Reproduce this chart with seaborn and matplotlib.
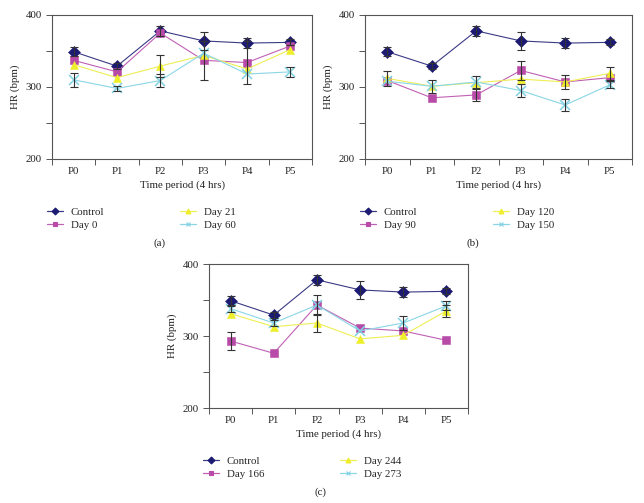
import numpy as np
import pandas as pd
import matplotlib
matplotlib.use('Agg')
import matplotlib.pyplot as plt
import seaborn as sns

periods = ['P0', 'P1', 'P2', 'P3', 'P4', 'P5']

# HR values (bpm), with SEM bars
control = [349, 329, 378, 364, 361, 362]
control_err = [6, 4, 7, 12, 7, 4]

day0 = [337, 321, 375, 337, 334, 357]
day0_err = [0, 0, 0, 27, 30, 0]
day21 = [331, 313, 329, 344, 325, 352]
day21_err = [0, 0, 15, 0, 0, 0]
day60 = [310, 298, 309, 347, 318, 321]
day60_err = [10, 4, 9, 0, 0, 7]

day90 = [309, 285, 289, 323, 307, 313]
day90_err = [0, 0, 8, 13, 10, 0]
day120 = [312, 301, 306, 311, 307, 319]
day120_err = [10, 9, 0, 0, 0, 9]
day150 = [308, 301, 307, 295, 275, 303]
day150_err = [0, 0, 8, 9, 9, 5]

day166 = [293, 276, 343, 311, 307, 294]
day166_err = [12, 0, 14, 0, 0, 0]
day244 = [331, 313, 318, 296, 301, 335]
day244_err = [0, 0, 12, 0, 0, 8]
day273 = [338, 318, 343, 307, 318, 342]
day273_err = [4, 4, 0, 0, 10, 6]

colors = ['#1c1a72', '#b84aa8', '#eeee2a', '#80d2e2']
line_colors = ['#3a3a85', '#c060b5', '#eeee55', '#8ad6e6']
markers = ['D', 's', '^', 'x']

panels = [
    ('(a)', ['Control', 'Day 0', 'Day 21', 'Day 60'],
     [control, day0, day21, day60], [control_err, day0_err, day21_err, day60_err]),
    ('(b)', ['Control', 'Day 90', 'Day 120', 'Day 150'],
     [control, day90, day120, day150], [control_err, day90_err, day120_err, day150_err]),
    ('(c)', ['Control', 'Day 166', 'Day 244', 'Day 273'],
     [control, day166, day244, day273], [control_err, day166_err, day244_err, day273_err]),
]

sns.set_theme(style='ticks')
plt.rcParams['font.family'] = ['Liberation Serif', 'DejaVu Serif']

fig = plt.figure(figsize=(6.44, 5.03), dpi=100)
W, H = 644, 503

# axes boxes in pixels: left, top, right, bottom
boxes = [(52, 15, 312, 159), (365, 15, 632, 159), (209, 264, 468, 408)]
legend_pos = [(47, 207), (360, 207), (203, 456)]
label_pos = [(159, 243), (473, 243), (320, 492)]

x = np.arange(len(periods))
for (tag, names, series, errs), (l, t, r, b), (lx, ly), (tx, ty) in zip(panels, boxes, legend_pos, label_pos):
    ax = fig.add_axes([l / W, 1 - b / H, (r - l) / W, (b - t) / H])
    handles = []
    for name, vals, err, c, lc, m in zip(names, series, errs, colors, line_colors, markers):
        df = pd.DataFrame({'x': x, 'y': vals})
        ms = 6 if m != 'x' else 7
        sns.lineplot(data=df, x='x', y='y', ax=ax, color=lc, marker=m, markersize=ms,
                     markerfacecolor=c, markeredgecolor=c,
                     markeredgewidth=1.1 if m == 'x' else 0.4,
                     linewidth=0.8, label=name, legend=False)
        e = np.array(err, dtype=float)
        mask = e > 0
        ax.errorbar(x[mask], np.array(vals)[mask], yerr=e[mask], fmt='none',
                    ecolor='#333333', elinewidth=0.8, capsize=3, capthick=0.8, zorder=3)
        handles.append(plt.Line2D([], [], color=lc, marker=m, markersize=3.5,
                                  markerfacecolor=c, markeredgecolor=c,
                                  markeredgewidth=0.8, linewidth=0.9))
    ax.set_xlim(-0.5, 5.5)
    ax.set_ylim(200, 400)
    ax.set_xticks(np.arange(-0.5, 6, 1))
    ax.set_xticklabels([])
    ax.set_xticks(x, minor=True)
    ax.set_xticklabels(periods, minor=True)
    ax.tick_params(axis='x', which='minor', length=0, labelsize=7.8, pad=6, colors='#222222')
    ax.tick_params(axis='x', which='major', length=4, width=0.7, color='#555555')
    ax.set_yticks([200, 250, 300, 350, 400])
    ax.set_yticklabels(['200', '', '300', '', '400'])
    ax.tick_params(axis='y', length=4, width=0.7, color='#555555', labelsize=7.8, colors='#222222')
    for s in ax.spines.values():
        s.set_color('#555555')
        s.set_linewidth(0.8)
    ax.set_xlabel('Time period (4 hrs)', fontsize=7.8, color='#222222', labelpad=3)
    ax.set_ylabel('HR (bpm)', fontsize=7.8, color='#222222', labelpad=4)
    fig.legend(handles, names, ncol=2, loc='upper left', bbox_to_anchor=(lx / W, 1 - ly / H),
               frameon=False, fontsize=7.8, handlelength=1.5, handletextpad=0.7,
               columnspacing=7.0, labelspacing=0.35, borderaxespad=0, borderpad=0)
    fig.text(tx / W, 1 - ty / H, tag, ha='center', va='center', fontsize=7.8, color='#222222')

fig.savefig('out.png', dpi=100)
